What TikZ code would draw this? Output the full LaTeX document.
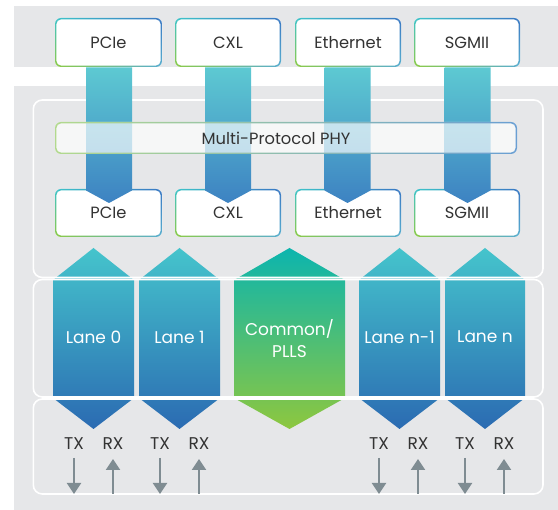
\documentclass[tikz,border=0pt]{standalone}
\usepackage{fontspec}
\setmainfont{Poppins}
\usetikzlibrary{arrows.meta,shadings}
\definecolor{bggray}{HTML}{E6E7E9}
\definecolor{txtdark}{HTML}{333333}
\definecolor{arrgray}{HTML}{7F8C92}
\definecolor{bartop}{HTML}{5DC9D2}
\definecolor{barbot}{HTML}{3D82C2}
\definecolor{lanetop}{HTML}{45C4CC}
\definecolor{lanebot}{HTML}{2B6BB2}
\definecolor{comtop}{HTML}{0CB5AE}
\definecolor{combot}{HTML}{8DC73F}
\definecolor{bteal}{HTML}{3EC3C9}
\definecolor{bblue}{HTML}{3B78C3}
\definecolor{bgreen}{HTML}{8DCB45}
\definecolor{bmid}{HTML}{5AAFD0}
\definecolor{mpgreen}{HTML}{B2D98E}
\definecolor{mpblue}{HTML}{6A9FD3}
\newcommand\gradbox[4]{%
  \fill[white, rounded corners=6pt] (#1,#2) rectangle (#3,#4);
  \shade[even odd rule, upper left=bteal, upper right=bblue, lower left=bgreen, lower right=bmid]
    [rounded corners=6pt] (#1,#2) rectangle (#3,#4)
    [rounded corners=4.6pt] (#1+1.4,#2+1.4) rectangle (#3-1.4,#4-1.4);}
\newcommand\lanehex[3]{% center, halfwidth, name
  \shade[top color=lanetop, bottom color=lanebot]
    (#1,248) -- (#1+#2,280) -- (#1+#2,398) -- (#1,429) -- (#1-#2,398) -- (#1-#2,280) -- cycle;}
\newcommand\protobar[1]{%
  \shade[top color=bartop, bottom color=barbot]
    (#1-23,67.5) -- (#1+23,67.5) -- (#1+23,190.5) -- (#1,203) -- (#1-23,190.5) -- cycle;}
\tikzset{
  lbl/.style={font=\fontsize{16.3}{18}\selectfont, text=txtdark, inner sep=0pt},
  sublbl/.style={font=\fontsize{17}{18}\selectfont, text=txtdark, inner sep=0pt},
  lanelbl/.style={font=\fontsize{17}{22}\selectfont, text=white, inner sep=0pt, align=center},
  rowline/.style={draw=white, line width=1.6pt, rounded corners=9pt},
  sig/.style={draw=arrgray, line width=2pt, -{Triangle[width=14pt,length=11pt]}},
}
\begin{document}
\begin{tikzpicture}[x=1pt,y=-1pt]
\useasboundingbox (0,0) rectangle (558,510);
\fill[white] (0,0) rectangle (558,510);
% gray bands
\fill[bggray] (14,6) rectangle (558,67);
\fill[bggray] (14,86) rectangle (558,510);
% lanes
\lanehex{93.5}{40.5}{l0}
\lanehex{179.5}{40.5}{l1}
\shade[top color=comtop, bottom color=combot]
  (289.5,248) -- (345,280) -- (345,398) -- (289.5,429) -- (234,398) -- (234,280) -- cycle;
\lanehex{399.5}{40.5}{ln1}
\lanehex{485}{40}{ln}
% row outlines
\draw[rowline] (33.3,100) rectangle (543,277.5);
\draw[rowline] (33.3,279.5) rectangle (543,397);
\draw[rowline] (33.3,399) rectangle (543,494);
% protocol boxes
\gradbox{55}{18}{162}{67}
\gradbox{175}{18}{281}{67}
\gradbox{295}{18}{401}{67}
\gradbox{414}{18}{520}{67}
\gradbox{55}{189}{162}{237}
\gradbox{175}{189}{281}{237}
\gradbox{295}{189}{401}{237}
\gradbox{414}{189}{520}{237}
% bars
\protobar{109}
\protobar{228}
\protobar{347.5}
\protobar{467.5}
% multi-protocol phy
\fill[white, opacity=0.68, rounded corners=6pt] (55,122) rectangle (517,154);
\shade[even odd rule, left color=mpgreen, right color=mpblue]
  [rounded corners=6pt] (55,122) rectangle (517,154)
  [rounded corners=4.6pt] (56.4,123.4) rectangle (515.6,152.6);
% labels
\node[lbl] (tpcie) at (108.5,42.5) {PCIe};
\node[lbl] (tcxl) at (228,42.5) {CXL};
\node[lbl] (teth) at (348,42.5) {Ethernet};
\node[lbl] (tsgm) at (467,42.5) {SGMII};
\node[lbl] (mp) at (276,138) {Multi-Protocol PHY};
\node[lbl] (bpcie) at (108.5,213) {PCIe};
\node[lbl] (bcxl) at (228,213) {CXL};
\node[lbl] (beth) at (348,213) {Ethernet};
\node[lbl] (bsgm) at (467,213) {SGMII};
\node[lanelbl] (lane0) at (93.5,337) {Lane 0};
\node[lanelbl] (lane1) at (179.5,337) {Lane 1};
\node[lanelbl] (common) at (289.5,339) {Common/\\PLLS};
\node[lanelbl] (lanen1) at (399.5,337) {Lane n-1};
\node[lanelbl] (lanen) at (485,337) {Lane n};
% TX / RX
\foreach \t/\r/\n in {74/113/a, 160/199/b, 379/418/c, 465/504/d}{
  \node[sublbl] (tx\n) at (\t,444) {TX};
  \node[sublbl] (rx\n) at (\r,444) {RX};
  \coordinate (txs\n) at (\t,458);
  \coordinate (txe\n) at (\t,494);
  \coordinate (rxs\n) at (\r,494);
  \coordinate (rxe\n) at (\r,459);
  \draw[sig] (txs\n) -- (txe\n);
  \draw[sig] (rxs\n) -- (rxe\n);
}
\end{tikzpicture}
\end{document}
